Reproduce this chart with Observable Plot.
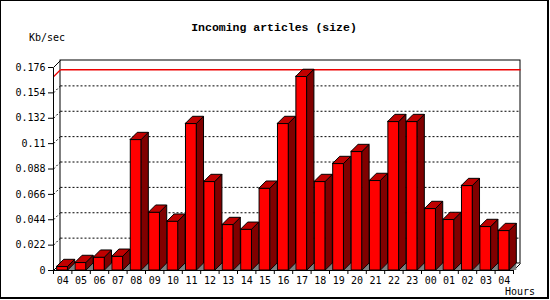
<!DOCTYPE html>
<html>
<head>
<meta charset="utf-8">
<script src="https://cdn.jsdelivr.net/npm/d3@7"></script>
<script src="https://cdn.jsdelivr.net/npm/@observablehq/plot@0.6"></script>
<style>
  html, body { margin: 0; padding: 0; background: white; }
  #wrap { position: relative; width: 550px; height: 300px; overflow: hidden; }
  #frame { position: absolute; left: 0; top: 0; width: 546px; height: 296px;
           border-left: 1px solid #000; border-top: 1px solid #000;
           border-right: 2px solid #000; border-bottom: 2px solid #000; pointer-events: none; }
  svg { display: block; }
</style>
</head>
<body>
<div id="wrap"><div id="frame"></div></div>
<script>
// ---- data ----
const hours = ["04","05","06","07","08","09","10","11","12","13","14","15","16","17","18","19","20","21","22","23","00","01","02","03","04"];
const kbps = [0.0032, 0.0067, 0.0113, 0.0121, 0.1133, 0.0503, 0.0425, 0.1272, 0.0769, 0.0396, 0.0355, 0.0711, 0.1272, 0.1680, 0.0769, 0.0925, 0.1029, 0.0778, 0.1289, 0.1289, 0.0535, 0.0440, 0.0734, 0.0379, 0.0344];
const yTicks = [0, 0.022, 0.044, 0.066, 0.088, 0.11, 0.132, 0.154, 0.176];
const titleText = "Incoming articles (size)";
const yLabel = "Kb/sec";
const xLabel = "Hours";

// ---- layout ----
const W = 550, H = 300;
const mL = 53, mR = 37, mT = 67, mB = 30;
const DEPTH = 7; // px of 3D depth
const n = hours.length;
const yMax = yTicks[yTicks.length - 1];
const dX = DEPTH * n / (W - mL - mR);
const dY = DEPTH * yMax / (H - mT - mB);
const maxV = d3.max(kbps);

const bars = kbps.map((v, i) => ({i, v}));
const sides = bars.flatMap(({i, v}) => [
  {z: i, x: i + 0.8, y1: 0, y2: v},
  {z: i, x: i + 0.8 + dX, y1: dY, y2: v + dY}
]);
const tops = bars.flatMap(({i, v}) => [
  {z: i, y: v, x1: i + 0.2, x2: i + 0.8},
  {z: i, y: v + dY, x1: i + 0.2 + dX, x2: i + 0.8 + dX}
]);
const shadows = bars.flatMap(({i}) => [
  {z: i, x: i + 0.8, y1: 0, y2: 0},
  {z: i, x: i + 0.8 + dX, y1: 0, y2: dY}
]);
const inner = yTicks.slice(1, -1);
const K = v => () => v;

const chart = Plot.plot({
  width: W, height: H,
  marginLeft: mL, marginRight: mR, marginTop: mT, marginBottom: mB,
  style: {fontFamily: "'DejaVu Sans Mono', monospace", fontSize: "10px", background: "white", overflow: "visible"},
  x: {type: "linear", domain: [0, n]},
  y: {type: "linear", domain: [0, yMax]},
  marks: [
    // back wall
    Plot.rect([0], {x1: K(dX), x2: K(n + dX), y1: K(dY), y2: K(yMax + dY), fill: "white", stroke: "black"}),
    // grid on back wall and side wall
    Plot.link(inner, {x1: K(dX), x2: K(n + dX), y1: d => d + dY, y2: d => d + dY, stroke: "black", strokeDasharray: "2,2"}),
    Plot.link(inner, {x1: K(0), y1: d => d, x2: K(dX), y2: d => d + dY, stroke: "black", strokeDasharray: "2,2"}),
    // max line
    Plot.link([maxV], {x1: K(dX), x2: K(n + dX), y1: d => d + dY, y2: d => d + dY, stroke: "#ee0000", strokeWidth: 1.3}),
    Plot.link([maxV], {x1: K(0), y1: d => d, x2: K(dX), y2: d => d + dY, stroke: "#ee0000", strokeWidth: 1.3}),
    // side wall & floor edges
    Plot.link([yMax], {x1: K(0), y1: d => d, x2: K(dX), y2: d => d + dY, stroke: "black"}),
    Plot.link([0, n], {x1: d => d, y1: K(0), x2: d => d + dX, y2: K(dY), stroke: "black"}),
    // bars
    Plot.areaY(shadows, {x: "x", y1: "y1", y2: "y2", z: "z", fill: "#808080"}),
    Plot.rect(bars, {x1: d => d.i + 0.2, x2: d => d.i + 0.8, y1: K(0), y2: "v", fill: "#ff0000", stroke: "black"}),
    Plot.areaY(sides, {x: "x", y1: "y1", y2: "y2", z: "z", fill: "#800000", stroke: "black"}),
    Plot.areaX(tops, {y: "y", x1: "x1", x2: "x2", z: "z", fill: "#c00000", stroke: "black"}),
    // axes
    Plot.link([0], {x1: K(0), x2: K(0), y1: K(0), y2: K(yMax), stroke: "black"}),
    Plot.link([0], {x1: K(0), x2: K(n), y1: K(0), y2: K(0), stroke: "black"}),
    Plot.axisY(yTicks, {anchor: "left", tickSize: 5, tickPadding: 3, tickFormat: d => String(d), label: null, color: "black"}),
    Plot.axisX(d3.range(n + 1), {anchor: "bottom", tickSize: 4, tickFormat: () => "", label: null}),
    Plot.axisX(d3.range(n).map(i => i + 0.5), {anchor: "bottom", tickSize: 0, tickPadding: 6, tickFormat: d => hours[Math.floor(d)], label: null, color: "black"})
  ]
});

const svg = d3.select(chart);
svg.append("text").attr("x", 274).attr("y", 30.5).attr("text-anchor", "middle")
  .attr("font-family", "'Liberation Mono', monospace").attr("font-weight", "bold").attr("font-size", "11.5px")
  .attr("fill", "black").text(titleText);
svg.append("text").attr("x", 29).attr("y", 40.5).attr("text-anchor", "start")
  .attr("font-family", "'DejaVu Sans Mono', monospace").attr("font-size", "10px").attr("fill", "black").text(yLabel);
svg.append("text").attr("x", 505).attr("y", 294.5).attr("text-anchor", "start")
  .attr("font-family", "'DejaVu Sans Mono', monospace").attr("font-size", "10px").attr("fill", "black").text(xLabel);

document.getElementById("wrap").insertBefore(chart, document.getElementById("frame"));
</script>
</body>
</html>
